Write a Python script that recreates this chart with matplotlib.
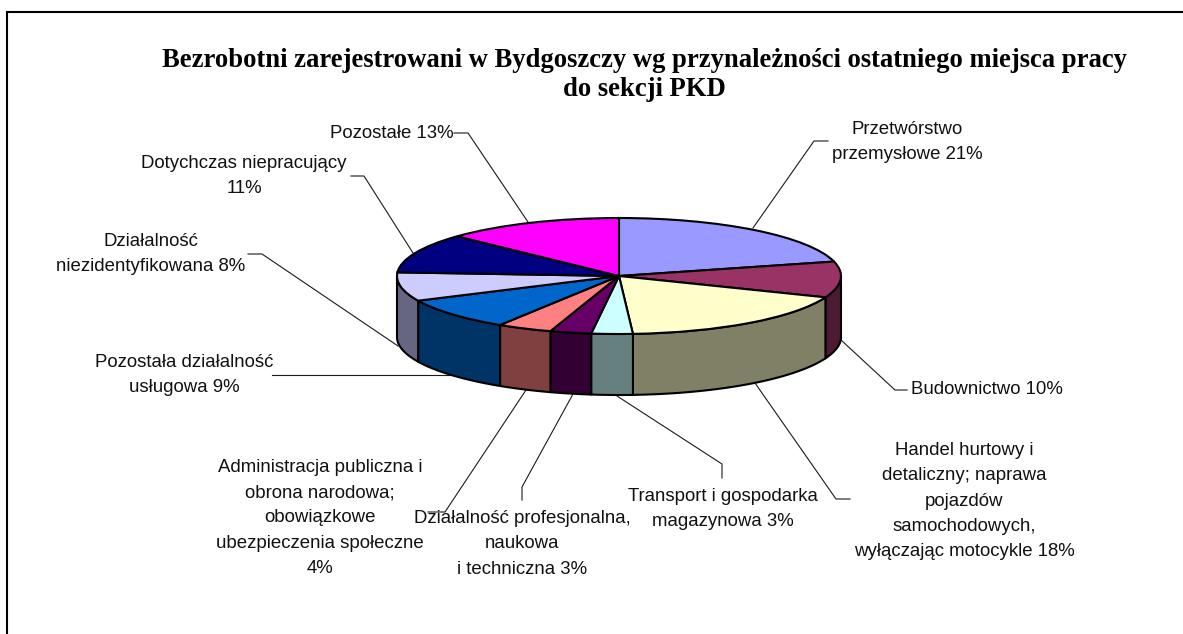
# Importing the libraries
import numpy as np
import matplotlib
matplotlib.use('Agg')
import matplotlib.pyplot as plt
from matplotlib.colors import to_rgb

# Chart data
title_text = 'Bezrobotni zarejestrowani w Bydgoszczy wg przynależności ostatniego miejsca pracy\ndo sekcji PKD'
categories = ['Przetwórstwo\nprzemysłowe', 'Budownictwo',
              'Handel hurtowy i\ndetaliczny; naprawa\npojazdów\nsamochodowych,\nwyłączając motocykle',
              'Transport i gospodarka\nmagazynowa',
              'Działalność profesjonalna,\nnaukowa\ni techniczna',
              'Administracja publiczna i\nobrona narodowa;\nobowiązkowe\nubezpieczenia społeczne\n',
              'Pozostała działalność\nusługowa',
              'Działalność\nniezidentyfikowana',
              'Dotychczas niepracujący\n',
              'Pozostałe']
values = [21, 10, 18, 3, 3, 4, 9, 8, 11, 13]

# Slice colours (the side wall is the same colour at half brightness)
colors = ['#9999FF', '#993366', '#FFFFCC', '#CCFFFF', '#660066',
          '#FF8080', '#0066CC', '#CCCCFF', '#000080', '#FF00FF']

# Layout in pixels of the 1183x634 picture
W, H = 1183, 634
cx, cy = 619, 276
rx, ry = 222, 58
depth = 61

label_pos = [(907, 142), (987, 390), (964, 501), (723, 509), (522, 544),
             (320, 518), (184, 375), (151, 254), (244, 176), (392, 133)]
leaders = [[(828, 141), (814, 141), (753, 228)],
           [(907, 390), (895, 390), (841, 340)],
           [(850, 499), (836, 499), (755, 383)],
           [(722, 478), (722, 464), (617, 396)],
           [(522, 500), (522, 487), (573, 394)],
           [(428, 512), (445, 512), (526, 390)],
           [(272, 375), (460, 375)],
           [(248, 254), (262, 254), (398, 346)],
           [(351, 176), (364, 176), (413, 253)],
           [(454, 133), (468, 133), (528, 222)]]

fig = plt.figure(figsize=[W / 100, H / 100], dpi=100, facecolor='white')

# Pixel axes for frame, leader lines and texts
pix = fig.add_axes([0, 0, 1, 1], zorder=1)
pix.set_xlim(0, W)
pix.set_ylim(H, 0)
pix.axis('off')

pix.plot([7, 7, W], [H, 12, 12], color='black', lw=1.5, solid_joinstyle='miter')

for pts in leaders:
    pix.plot([p[0] for p in pts], [p[1] for p in pts], color='#1a1a1a', lw=0.8)

pix.text(644, 75, title_text, ha='center', va='center', fontsize=19.2,
         fontweight='bold', family='Liberation Serif', linespacing=1.21)

for cat, val, (x, y) in zip(categories, values, label_pos):
    sep = '' if cat.endswith('\n') else ' '
    pix.text(x, y, cat + sep + str(val) + '%', ha='center', va='center', fontsize=13.4,
             family='Liberation Sans', color='#111111', linespacing=1.63)

# Pie axes, one data unit = the ellipse radius on each axis
ax = fig.add_axes([0, 0, 1, 1], zorder=2)
ax.patch.set_alpha(0)

# Side walls, only the front half of the rim is visible
ends = np.cumsum(values) / np.sum(values) * 360.0
starts = np.concatenate([[0.0], ends[:-1]])
d = depth / ry
for a0, a1, c in zip(starts, ends, colors):
    lo, hi = max(a0, 90.0), min(a1, 270.0)
    if hi <= lo:
        continue
    t = np.radians(np.linspace(lo, hi, 60))
    xs = np.sin(t)
    ys = np.cos(t)
    wall_x = np.concatenate([xs, xs[::-1]])
    wall_y = np.concatenate([ys, ys[::-1] - d])
    ax.fill(wall_x, wall_y, facecolor=tuple(0.5 * v for v in to_rgb(c)),
            edgecolor='black', lw=1.5, joinstyle='round')

# Top face
ax.pie(values, colors=colors, startangle=90, counterclock=False, frame=True,
       wedgeprops={'edgecolor': 'black', 'linewidth': 1.5})

ax.set_aspect('auto')
ax.set_xlim((0 - cx) / rx, (W - cx) / rx)
ax.set_ylim((cy - H) / ry, cy / ry)
ax.axis('off')

# Saving the figure
fig.savefig('out.png', dpi=100)
